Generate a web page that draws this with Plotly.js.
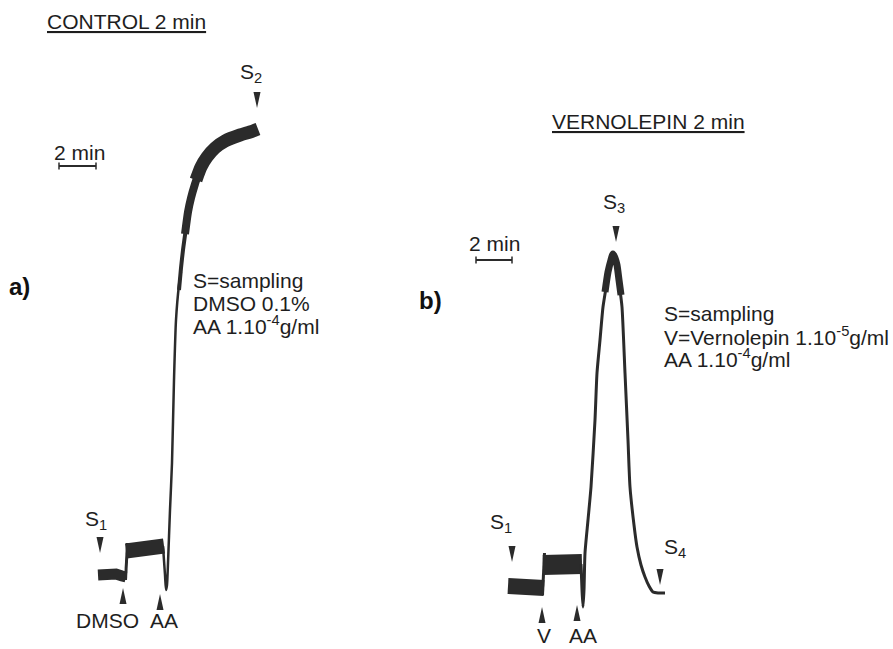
<!DOCTYPE html>
<html>
<head>
<meta charset="utf-8">
<script src="https://cdn.plot.ly/plotly-3.0.1.min.js"></script>
<style>html,body{margin:0;padding:0;background:#fff;}#chart{width:893px;height:649px;}</style>
</head>
<body>
<div id="chart"></div>
<script>
// ---- Panel a (CONTROL) recording, in figure units ----
var aBase1X = [98, 104, 110, 116, 122, 126];
var aBase1Y = [575, 574, 575, 574, 576, 577];
var aStepX = [125.5, 126.5, 127.5];
var aStepY = [580, 560, 543];
var aBase2X = [126, 134, 140, 146, 152, 158, 164];
var aBase2Y = [551, 550, 549, 549, 548, 547, 546];
var aRiseX = [163, 165, 166, 167, 168, 170, 172, 174, 176, 179, 181];
var aRiseY = [546, 575, 590, 585, 563, 510, 463, 380, 320, 285, 272];
var aCurve1X = [179, 181, 183, 186];
var aCurve1Y = [290, 268, 250, 228];
var aCurve2X = [185, 188, 191, 195, 198];
var aCurve2Y = [234, 212, 198, 184, 175];
var aCurve3X = [196, 201, 207, 215, 225, 240, 250, 258];
var aCurve3Y = [180, 167, 157, 148, 141, 135, 132, 129];

// ---- Panel b (VERNOLEPIN) recording ----
var bBase1X = [508, 514, 520, 526, 532, 538, 544];
var bBase1Y = [586, 586, 587, 586, 587, 587, 588];
var bStepX = [542.5, 543.5, 544.5];
var bStepY = [595, 570, 553];
var bBase2X = [543, 551, 557, 563, 569, 575, 582];
var bBase2Y = [565, 565, 564, 565, 564, 564, 564];
var bRiseX = [581, 582, 583, 584, 585, 588, 591, 595, 597, 600, 603, 606];
var bRiseY = [564, 590, 607, 590, 553, 520, 487, 420, 373, 340, 307, 288];
var bPeakX = [605, 608, 611, 613, 615, 617, 619, 621];
var bPeakY = [292, 272, 260, 254, 258, 265, 280, 295];
var bFallX = [620, 622, 625, 628, 630, 634, 637, 641, 645, 649, 653, 658, 665];
var bFallY = [290, 307, 373, 440, 487, 525, 547, 565, 577, 586, 592, 593, 593];

// ---- markers (arrowheads): x, tip y, direction ----
var arrowX   = [100, 123, 160, 257, 616, 512, 542, 577, 660];
var arrowTip = [553, 588, 594, 108, 242, 562, 607, 605, 585];
var arrowDir = ['down', 'up', 'up', 'down', 'down', 'down', 'up', 'up', 'down'];

// ---- scale bars (2 min) ----
var barAX = [59, 96], barAY = [166, 166];
var barBX = [476, 512], barBY = [260, 260];

// ---- labels ----
var labelText = ['S<sub>1</sub>', 'DMSO', 'AA', 'S<sub>2</sub>', '2 min',
  'S=sampling', 'DMSO 0.1%', 'AA 1.10<sup>-4</sup>g/ml',
  'S<sub>3</sub>', '2 min', 'S=sampling', 'V=Vernolepin 1.10<sup>-5</sup>g/ml', 'AA 1.10<sup>-4</sup>g/ml',
  'S<sub>1</sub>', 'S<sub>4</sub>'];
var labelX = [83, 74, 148, 238, 52, 191, 191, 191, 601, 467, 662, 662, 662, 488, 662];
var labelY = [520, 620, 620, 73, 152, 280, 303, 325, 203, 243, 313, 336, 358, 523, 548];
var bottomText = ['V', 'AA'];
var bottomX = [535, 567];

var ink = '#2b2b2b';
function seg(x, y, w, sh) {
  return {x: x, y: y, type: 'scatter', mode: 'lines', hoverinfo: 'skip',
          line: {color: ink, width: w, shape: sh || 'spline', smoothing: 0.6}, showlegend: false};
}
var data = [
  seg(aBase1X, aBase1Y, 11, 'linear'), seg(aStepX, aStepY, 3, 'linear'), seg(aBase2X, aBase2Y, 15, 'linear'),
  seg(aRiseX, aRiseY, 2.5),
  seg(aCurve1X, aCurve1Y, 4), seg(aCurve2X, aCurve2Y, 8), seg(aCurve3X, aCurve3Y, 13),
  seg(bBase1X, bBase1Y, 16, 'linear'), seg(bStepX, bStepY, 3, 'linear'), seg(bBase2X, bBase2Y, 20, 'linear'),
  seg(bRiseX, bRiseY, 3),
  seg(bPeakX, bPeakY, 7), seg(bFallX, bFallY, 3),
  {x: barAX, y: barAY, type: 'scatter', mode: 'lines+markers', hoverinfo: 'skip', showlegend: false,
   line: {color: ink, width: 2}, marker: {symbol: 'line-ns-open', size: 5, color: ink, line: {width: 1.5, color: ink}}},
  {x: barBX, y: barBY, type: 'scatter', mode: 'lines+markers', hoverinfo: 'skip', showlegend: false,
   line: {color: ink, width: 2}, marker: {symbol: 'line-ns-open', size: 5, color: ink, line: {width: 1.5, color: ink}}}
];

var shapes = [];
for (var i = 0; i < arrowX.length; i++) {
  var x = arrowX[i], t = arrowTip[i], b = arrowDir[i] === 'down' ? t - 16 : t + 16;
  shapes.push({type: 'path', xref: 'x', yref: 'y', fillcolor: ink, line: {width: 0},
    path: 'M' + (x - 3.5) + ',' + b + ' L' + (x + 3.5) + ',' + b + ' L' + x + ',' + t + ' Z'});
}

var fontFam = 'Liberation Sans, Arial, Helvetica, sans-serif';
var fs = 21;
var annotations = [];
for (var j = 0; j < labelText.length; j++) {
  annotations.push({text: labelText[j], x: labelX[j], y: labelY[j], xref: 'x', yref: 'y',
    xanchor: 'left', yanchor: 'middle', showarrow: false,
    font: {family: fontFam, size: fs, color: '#1e1e1e'}});
}
for (var k = 0; k < bottomText.length; k++) {
  annotations.push({text: bottomText[k], x: bottomX[k], y: 649, xref: 'x', yref: 'y',
    xanchor: 'left', yanchor: 'bottom', showarrow: false,
    font: {family: fontFam, size: fs, color: '#1e1e1e'}});
}
annotations.push({text: 'CONTROL 2 min', x: 45, y: 21, xref: 'x', yref: 'y', xanchor: 'left', yanchor: 'middle',
  showarrow: false, font: {family: fontFam, size: fs, color: '#1e1e1e', lineposition: 'under'}});
annotations.push({text: 'VERNOLEPIN 2 min', x: 550, y: 121, xref: 'x', yref: 'y', xanchor: 'left', yanchor: 'middle',
  showarrow: false, font: {family: fontFam, size: fs, color: '#1e1e1e', lineposition: 'under'}});
annotations.push({text: '<b>a)</b>', x: 7, y: 286, xref: 'x', yref: 'y', xanchor: 'left', yanchor: 'middle',
  showarrow: false, font: {family: fontFam, size: 24, color: '#111'}});
annotations.push({text: '<b>b)</b>', x: 417, y: 300, xref: 'x', yref: 'y', xanchor: 'left', yanchor: 'middle',
  showarrow: false, font: {family: fontFam, size: 24, color: '#111'}});

var layout = {
  width: 893, height: 649,
  margin: {l: 0, r: 0, t: 0, b: 0},
  paper_bgcolor: '#ffffff', plot_bgcolor: '#ffffff',
  xaxis: {range: [0, 893], visible: false, fixedrange: true},
  yaxis: {range: [649, 0], visible: false, fixedrange: true},
  shapes: shapes, annotations: annotations, showlegend: false
};
Plotly.newPlot('chart', data, layout, {staticPlot: true, displayModeBar: false});
</script>
</body>
</html>
